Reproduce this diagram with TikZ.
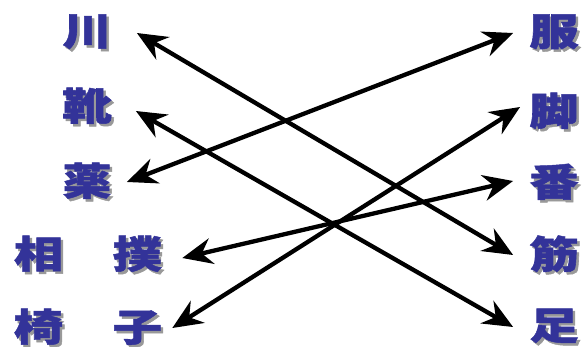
\documentclass[tikz,border=0pt]{standalone}
\usepackage{fontspec}
\newfontfamily\cjk{Noto Sans CJK JP}[BoldFeatures={FakeBold=1.2}]
\usepackage{tikz}
\usetikzlibrary{arrows.meta}
\definecolor{kanjiblue}{HTML}{333399}
% kanji with a light drop shadow, drawn a bit wide
\newcommand{\kanji}[1]{\makebox[0pt][l]{\hspace{2.5pt}\raisebox{-2.5pt}{\color{black!40}\scalebox{1.3}[1]{#1}}}\scalebox{1.3}[1]{#1}}

\begin{document}
\begin{tikzpicture}[
  x=1pt, y=-1pt,
  font=\cjk\bfseries\fontsize{38pt}{38pt}\selectfont,
  word/.style={inner sep=0pt, text=kanjiblue},
  arr/.style={{Stealth[length=30pt,width=26pt,inset=10pt]}-{Stealth[length=30pt,width=26pt,inset=10pt]}, line width=4.3pt}
]
\useasboundingbox (0,0) rectangle (585,347);
\node[word] (kawa) at (87,33) {\kanji{川}};
\node[word] (kutsu) at (87,107) {\kanji{靴}};
\node[word] (kusuri) at (87,182) {\kanji{薬}};
\node[word] (sumo) at (88,255) {\kanji{相　撲}};
\node[word] (isu) at (88,328) {\kanji{椅　子}};
\node[word] (fuku) at (554,33) {\kanji{服}};
\node[word] (kyaku) at (554,112) {\kanji{脚}};
\node[word] (ban) at (554,183) {\kanji{番}};
\node[word] (suji) at (554,255) {\kanji{筋}};
\node[word] (ashi) at (554,327) {\kanji{足}};
\draw[arr] ([xshift=25pt]kawa.east) -- ([xshift=-16pt]suji.west);
\draw[arr] ([xshift=24pt,yshift=-4pt]kutsu.east) -- ([xshift=-16pt]ashi.west);
\draw[arr] ([xshift=15pt]kusuri.east) -- ([xshift=-16pt]fuku.west);
\draw[arr] ([xshift=20pt,yshift=-3pt]sumo.east) -- ([xshift=-16pt,yshift=2pt]ban.west);
\draw[arr] ([xshift=10pt]isu.east) -- ([xshift=-9pt,yshift=5pt]kyaku.west);
\end{tikzpicture}
\end{document}
